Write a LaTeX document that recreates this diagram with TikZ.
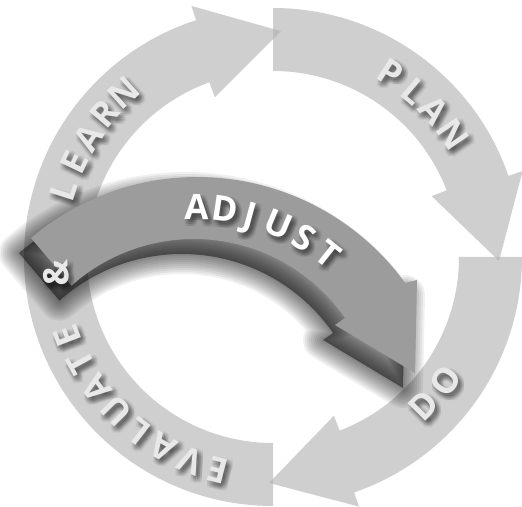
\documentclass[tikz,border=0pt]{standalone}
\usepackage{fontspec}
\setmainfont{Open Sans}
\definecolor{ringgray}{gray}{0.69}
\definecolor{adjgray}{gray}{0.61}
\definecolor{ringtxt}{gray}{0.91}
\tikzset{
  ringseg/.style={fill=ringgray, fill opacity=0.6},
  lettr/.style={font=\fontsize{35}{35}\selectfont\bfseries, inner sep=0pt, text height=25pt, text depth=0pt},
  ltxt/.style={lettr, text=ringtxt},
  atxt/.style={lettr, text=white},
  shtxt/.style={lettr, text=black, text opacity=0.05},
  adjshape/.style={insert path={(31,268) arc[start angle=130.3, end angle=36, radius=257]
     -- (417,226) -- (415,133) -- (335,181) -- (345,188)
     arc[start angle=34.8, end angle=131.7, radius=184] -- cycle}},
}
% ring segment: #1 start angle, #2 base angle of arrow head
\newcommand\ringpiece[2]{%
  \fill[ringseg] (#1:249) arc[start angle=#1, end angle={#2-1}, radius=249]
    -- ({#2-1}:264) -- ({#2-21}:226) -- ({#2+1}:170) -- ({#2+1}:186)
    arc[start angle={#2+1}, end angle=#1, radius=186] -- cycle;}
% letter with soft shadow: #1 style, #2 angle, #3 radius, #4 rotation, #5 text
\newcommand\shletter[5]{%
  \foreach \dx in {0,2,4,6}{\foreach \dy in {-1,-3,-5,-7}{%
    \node[shtxt, rotate={#4}] at ([shift={(\dx,\dy)}]#2:#3) {#5};}}
  \node[#1, rotate={#4}] at (#2:#3) {#5};}
\newcommand\outletter[4]{\shletter{#1}{#2}{#3}{#2-90}{#4}}
\newcommand\inletter[4]{\shletter{#1}{#2}{#3}{#2+90}{#4}}

\begin{document}
\begin{tikzpicture}[x=1pt,y=1pt]
  \fill[white] (0,0) rectangle (522,506);
  \useasboundingbox (0,0) rectangle (522,506);
  \coordinate (O) at (273,249);
  \coordinate (C) at (194,83);

  % ring of three arrows
  \begin{scope}[shift={(O)}]
    \ringpiece{90}{20}
    \ringpiece{0}{-70}
    \ringpiece{-90}{-251}
  \end{scope}

  % ADJUST arrow shadow (soft)
  \begin{scope}[shift={(-12,-15)}]
    \fill[black, opacity=0.45, adjshape];
    \foreach \w in {4,8,...,40}{\draw[black, opacity=0.06, line width=\w, line join=round, adjshape];}
  \end{scope}
  % ADJUST arrow
  \fill[adjgray, adjshape];

  % ADJUST text
  \begin{scope}[shift={(C)}]
    \outletter{atxt}{89.3}{216}{A}
    \outletter{atxt}{81.7}{216}{D}
    \outletter{atxt}{74.8}{216}{J}
    \outletter{atxt}{67.1}{216}{U}
    \outletter{atxt}{59.2}{216}{S}
    \outletter{atxt}{51.5}{216}{T}
  \end{scope}

  % ring texts
  \begin{scope}[shift={(O)}]
    \outletter{ltxt}{57.5}{218}{P}
    \outletter{ltxt}{49.5}{218}{L}
    \outletter{ltxt}{42.3}{218}{A}
    \outletter{ltxt}{34.4}{218}{N}
    \inletter{ltxt}{-44.6}{212}{D}
    \inletter{ltxt}{-35.7}{212}{O}
    \outletter{ltxt}{-104.4}{220}{E}
    \outletter{ltxt}{-112.2}{220}{V}
    \outletter{ltxt}{-120}{220}{A}
    \outletter{ltxt}{-127.8}{220}{L}
    \outletter{ltxt}{-135.6}{220}{U}
    \outletter{ltxt}{-143.4}{220}{A}
    \outletter{ltxt}{-151.2}{220}{T}
    \outletter{ltxt}{-159}{220}{E}
    \outletter{ltxt}{-175.8}{218}{\&}
    \outletter{ltxt}{-197.7}{220}{L}
    \outletter{ltxt}{-205.4}{220}{E}
    \outletter{ltxt}{-213}{220}{A}
    \outletter{ltxt}{-220.3}{221}{R}
    \outletter{ltxt}{-227.9}{222}{N}
  \end{scope}
\end{tikzpicture}
\end{document}
